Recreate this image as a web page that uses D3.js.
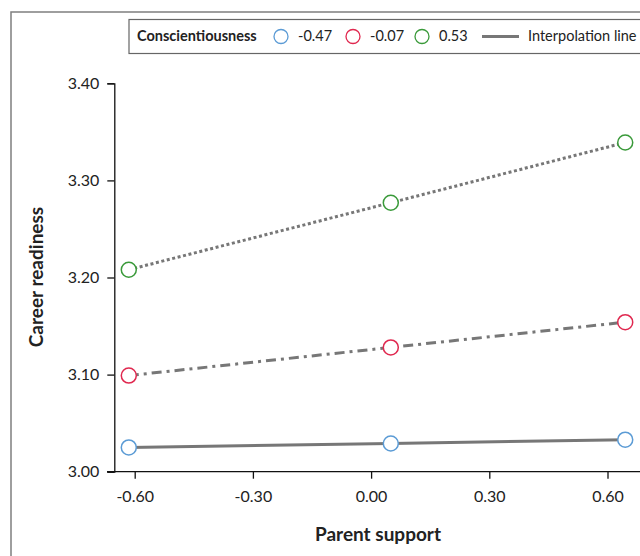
<!DOCTYPE html>
<html lang="en">
<head>
    <meta charset="UTF-8">
    <title>Career readiness</title>
    <style>
        body {
            margin: 0;
            background: #fff;
        }
        svg text {
            font-family: Lato, "Open Sans", sans-serif;
            fill: #222;
        }
    </style>
</head>
<body>
<div id="chart"></div>
<script src="https://d3js.org/d3.v7.min.js"></script>
<script>
    // data
    const parentSupport = [-0.615, 0.05, 0.645];
    const groups = ["-0.47", "-0.07", "0.53"];
    const lowValues = [3.025, 3.029, 3.033];
    const midValues = [3.099, 3.128, 3.154];
    const highValues = [3.208, 3.277, 3.339];
    const xTicks = [-0.6, -0.3, 0, 0.3, 0.6];
    const yTicks = [3.0, 3.1, 3.2, 3.3, 3.4];

    const width = 640, height = 556;
    const colors = ["#5b9bd5", "#e0284f", "#3a9a3a"];
    const dashes = [null, "10,5,3,5", "3,2.6"];
    // plain hyphen instead of d3's unicode minus
    const fmt = d => d3.format(".2f")(d).replace("\u2212", "-");

    const svg = d3.select("#chart").append("svg")
        .attr("width", width)
        .attr("height", height);

    // outer frame (runs off the right and bottom)
    svg.append("rect")
        .attr("x", 11).attr("y", 12)
        .attr("width", 700).attr("height", 600)
        .attr("fill", "none")
        .attr("stroke", "#7f7f7f")
        .attr("stroke-width", 1.5);

    const x = d3.scaleLinear().domain([-0.6, 0.6]).range([134.7, 607.5]);
    const y = d3.scaleLinear().domain([3.0, 3.4]).range([471.7, 83.3]);

    // y axis
    const yAxis = svg.append("g")
        .attr("transform", "translate(114.3,0)")
        .call(d3.axisLeft(y).tickValues(yTicks).tickFormat(fmt).tickSizeOuter(0).tickSize(7));
    yAxis.select(".domain").attr("stroke", "#111").attr("stroke-width", 1.3);
    yAxis.selectAll(".tick line").attr("stroke", "#111").attr("stroke-width", 1.3);
    yAxis.selectAll(".tick text").attr("x", -15).style("font-size", "16px");

    // x axis
    const xAxis = svg.append("g")
        .attr("transform", `translate(0,${y(3.0)})`)
        .call(d3.axisBottom(x).tickValues(xTicks).tickFormat(fmt).tickSize(7));
    xAxis.select(".domain").remove();
    xAxis.append("line")
        .attr("x1", 107).attr("x2", width)
        .attr("stroke", "#111").attr("stroke-width", 1.3);
    xAxis.selectAll(".tick line").attr("stroke", "#111").attr("stroke-width", 1.3);
    xAxis.selectAll(".tick text").attr("y", 19).style("font-size", "16px");

    // axis titles
    svg.append("text")
        .attr("x", 378).attr("y", 541)
        .attr("text-anchor", "middle")
        .style("font-size", "19px").style("font-weight", "bold")
        .text("Parent support");
    svg.append("text")
        .attr("transform", "translate(43,277) rotate(-90)")
        .attr("text-anchor", "middle")
        .style("font-size", "19px").style("font-weight", "bold")
        .text("Career readiness");

    // lines and points
    const series = [lowValues, midValues, highValues];
    const line = d3.line()
        .x((d, i) => x(parentSupport[i]))
        .y(d => y(d));

    series.forEach(function (vals, k) {
        svg.append("path")
            .datum(vals)
            .attr("d", line)
            .attr("fill", "none")
            .attr("stroke", "#777")
            .attr("stroke-width", 3)
            .attr("stroke-dasharray", dashes[k]);
    });
    series.forEach(function (vals, k) {
        svg.selectAll(".pt" + k)
            .data(vals)
            .join("circle")
            .attr("class", "pt" + k)
            .attr("cx", (d, i) => x(parentSupport[i]))
            .attr("cy", d => y(d))
            .attr("r", 7.5)
            .attr("fill", "#fff")
            .attr("stroke", colors[k])
            .attr("stroke-width", 1.5);
    });

    // legend
    const legend = svg.append("g");
    legend.append("rect")
        .attr("x", 129).attr("y", 19.5)
        .attr("width", 600).attr("height", 34)
        .attr("fill", "#fff")
        .attr("stroke", "#666")
        .attr("stroke-width", 1.2);
    legend.append("text")
        .attr("x", 137).attr("y", 41)
        .style("font-size", "14.5px").style("font-weight", "bold")
        .text("Conscientiousness");
    const legX = [281, 353, 422];
    groups.forEach(function (g, k) {
        legend.append("circle")
            .attr("cx", legX[k]).attr("cy", 36.5)
            .attr("r", 7)
            .attr("fill", "#fff")
            .attr("stroke", colors[k])
            .attr("stroke-width", 1.3);
        legend.append("text")
            .attr("x", legX[k] + 17).attr("y", 41)
            .style("font-size", "14.5px")
            .text(g);
    });
    legend.append("line")
        .attr("x1", 482).attr("x2", 519)
        .attr("y1", 36.5).attr("y2", 36.5)
        .attr("stroke", "#777").attr("stroke-width", 3);
    legend.append("text")
        .attr("x", 528).attr("y", 41)
        .style("font-size", "14.5px")
        .text("Interpolation line");
</script>
</body>
</html>
